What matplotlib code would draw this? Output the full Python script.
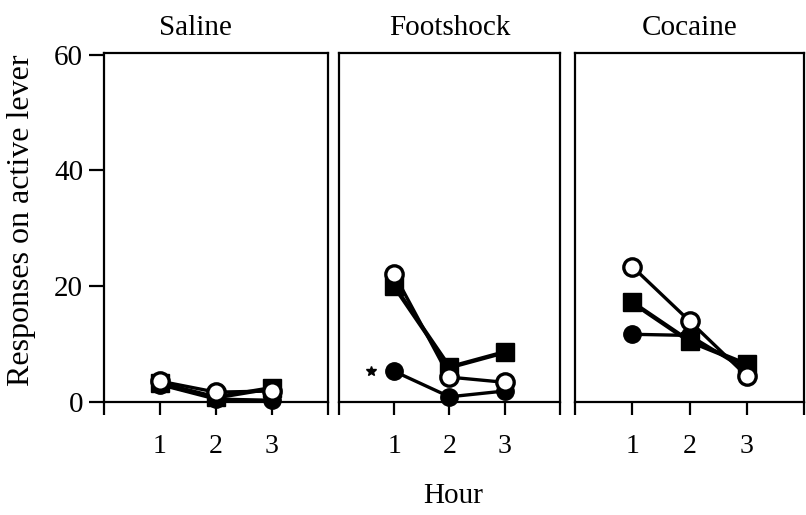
import numpy as np
import matplotlib
matplotlib.use("Agg")
import matplotlib.pyplot as plt

plt.rcParams['font.family'] = ['Liberation Serif', 'DejaVu Serif']

# data
hours = [1, 2, 3]
panels = ["Saline", "Footshock", "Cocaine"]
filled_circle = {"Saline": [3.0, 0.5, 0.3],
                 "Footshock": [5.3, 0.9, 1.9],
                 "Cocaine": [11.7, 11.5, 5.5]}
filled_square = {"Saline": [3.2, 0.8, 2.4],
                 "Footshock": [20.0, 6.0, 8.6],
                 "Cocaine": [17.2, 10.5, 6.5]}
open_circle = {"Saline": [3.6, 1.7, 1.9],
               "Footshock": [22.1, 4.3, 3.4],
               "Cocaine": [23.4, 14.0, 4.5]}
star_pos = (0.58, 5.3)  # significance mark in Footshock panel

fig = plt.figure(figsize=(8.06, 5.15), dpi=100)
W, H = 806, 515
boxes = [(104, 328), (339, 560), (575, 804)]
title_x = [0.41, 0.5, 0.5]
top_px, bot_px = 53, 402

axes = []
for (l, r), name, tx in zip(boxes, panels, title_x):
    ax = fig.add_axes([l / W, 1 - bot_px / H, (r - l) / W, (bot_px - top_px) / H])
    axes.append(ax)

    ax.plot(hours, filled_circle[name], '-o', color='black', lw=2.4,
            ms=12.5, mfc='black', mec='black', clip_on=False, zorder=3)
    ax.plot(hours, filled_square[name], '-s', color='black', lw=3.2,
            ms=12.5, mfc='black', mec='black', clip_on=False, zorder=4)
    ax.plot(hours, open_circle[name], '-o', color='black', lw=2.4,
            ms=12.5, mfc='white', mec='black', mew=2.4, clip_on=False, zorder=5)

    ax.set_xlim(0, 4)
    ax.set_ylim(0, 60.3)
    ax.set_xticks([0, 1, 2, 3, 4])
    ax.set_xticklabels(['', '1', '2', '3', ''])
    ax.tick_params(axis='x', direction='out', length=9, width=1.6,
                   labelsize=20, pad=14)
    for s in ax.spines.values():
        s.set_linewidth(1.6)
    ax.set_title(name, fontsize=21, pad=13, x=tx)

    if name == "Saline":
        ax.set_yticks([0, 20, 40, 60])
        ax.tick_params(axis='y', direction='out', length=11, width=1.6,
                       labelsize=21, pad=4)
    else:
        ax.set_yticks([])

axes[1].plot(*star_pos, marker='*', color='black', ms=7, ls='none')

fig.text(0.027, 1 - 220 / H, "Responses on active lever", rotation=90,
         ha='center', va='center', fontsize=23)
fig.text(453 / W, 1 - 496 / H, "Hour", ha='center', va='center', fontsize=21)

fig.savefig("out.png", dpi=100)
